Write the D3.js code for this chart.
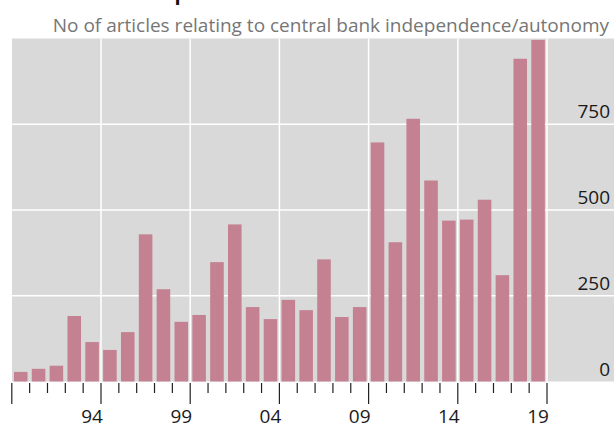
<!DOCTYPE html>
<html>
<head>
<meta charset="utf-8">
<script src="https://cdn.jsdelivr.net/npm/d3@7"></script>
<style>
  body { margin: 0; background: #fff; }
  svg { display: block; font-family: "Open Sans", sans-serif; }
</style>
</head>
<body>
<script>
"use strict";

// data
var years = [1990, 1991, 1992, 1993, 1994, 1995, 1996, 1997, 1998, 1999,
             2000, 2001, 2002, 2003, 2004, 2005, 2006, 2007, 2008, 2009,
             2010, 2011, 2012, 2013, 2014, 2015, 2016, 2017, 2018, 2019];
var articles = [28, 37, 46, 191, 115, 92, 144, 429, 269, 174,
                194, 348, 458, 217, 182, 238, 208, 356, 188, 217,
                697, 406, 766, 586, 469, 472, 530, 310, 941, 996];
var y_ticks = [0, 250, 500, 750];
var label_years = [1994, 1999, 2004, 2009, 2014, 2019];
var label_text = ['94', '99', '04', '09', '14', '19'];
var title = 'Mentions in the press';
var subtitle = 'No of articles relating to central bank independence/autonomy';

var width = 614,
  height = 426,
  panel = {left: 12, right: 614, top: 38.5, bottom: 381.5},
  plot_right = 547;

var svg = d3.select('body').append('svg')
  .attr('width', width)
  .attr('height', height);

// scales
var x = d3.scaleBand()
  .domain(years)
  .range([panel.left - 0.2, plot_right])
  .paddingInner(0.24)
  .paddingOuter(0.12);

// year boundaries, used for ticks and vertical grid
var x_edge = d3.scaleLinear()
  .domain([years[0], years[years.length - 1] + 1])
  .range([panel.left - 0.2, plot_right]);

var y = d3.scaleLinear()
  .domain([0, 1000])
  .range([panel.bottom, panel.top]);

// background panel
svg.append('rect')
  .attr('x', panel.left)
  .attr('y', panel.top)
  .attr('width', panel.right - panel.left)
  .attr('height', panel.bottom - panel.top)
  .attr('fill', '#d9d9d9');

// horizontal grid
svg.append('g')
  .attr('class', 'grid')
  .selectAll('line')
  .data(y_ticks.filter(d => d > 0))
  .enter().append('line')
    .attr('x1', panel.left)
    .attr('x2', panel.right)
    .attr('y1', d => y(d))
    .attr('y2', d => y(d))
    .attr('stroke', '#fff')
    .attr('stroke-width', 1.5);

// vertical grid at the major year boundaries
var major_edges = d3.range(years[0] + 5, years[years.length - 1] + 2, 5);

svg.append('g')
  .attr('class', 'grid')
  .selectAll('line')
  .data(major_edges)
  .enter().append('line')
    .attr('x1', d => x_edge(d))
    .attr('x2', d => x_edge(d))
    .attr('y1', panel.top)
    .attr('y2', panel.bottom)
    .attr('stroke', '#fff')
    .attr('stroke-width', 1.5);

// bars
svg.append('g')
  .attr('class', 'bars')
  .selectAll('rect')
  .data(years)
  .enter().append('rect')
    .attr('x', d => x(d))
    .attr('width', x.bandwidth())
    .attr('y', (d, i) => y(articles[i]))
    .attr('height', (d, i) => y(0) - y(articles[i]))
    .attr('fill', '#c48191');

// y labels, inside the panel on the right
svg.append('g')
  .attr('class', 'axis y')
  .selectAll('text')
  .data(y_ticks)
  .enter().append('text')
    .attr('x', 610)
    .attr('y', d => y(d) - 6)
    .attr('text-anchor', 'end')
    .attr('font-size', 19)
    .attr('fill', '#1a1a1a')
    .text(d => d);

// x axis: minor ticks every year, longer ones every five
var all_edges = d3.range(years[0], years[years.length - 1] + 2);

svg.append('g')
  .attr('class', 'axis x')
  .selectAll('line')
  .data(all_edges)
  .enter().append('line')
    .attr('x1', d => x_edge(d))
    .attr('x2', d => x_edge(d))
    .attr('y1', panel.bottom + 1.5)
    .attr('y2', d => (d - years[0]) % 5 === 0 ? 404 : 393)
    .attr('stroke', '#222')
    .attr('stroke-width', 1.2);

svg.append('g')
  .attr('class', 'axis x labels')
  .selectAll('text')
  .data(label_years)
  .enter().append('text')
    .attr('x', d => x(d) + x.bandwidth() / 2)
    .attr('y', 422.5)
    .attr('text-anchor', 'middle')
    .attr('font-size', 19)
    .attr('fill', '#1a1a1a')
    .text((d, i) => label_text[i]);

// titles (main title is cut off by the top edge, as in the source)
svg.append('text')
  .attr('x', 12)
  .attr('y', -0.5)
  .attr('font-size', 20)
  .attr('font-weight', 'bold')
  .attr('fill', '#111')
  .text(title);

svg.append('text')
  .attr('x', 609)
  .attr('y', 32)
  .attr('text-anchor', 'end')
  .attr('font-size', 19)
  .attr('fill', '#767676')
  .text(subtitle);
</script>
</body>
</html>
